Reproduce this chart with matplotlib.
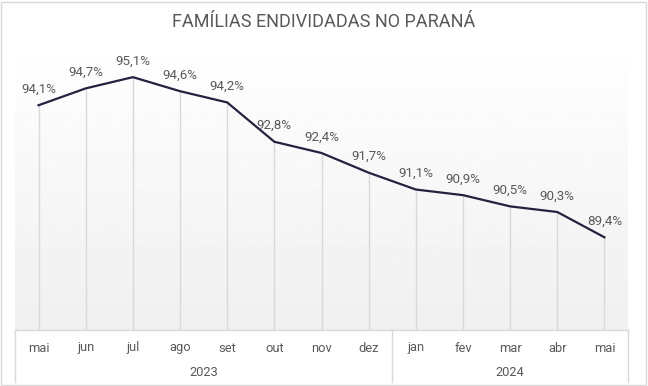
import matplotlib
matplotlib.use("Agg")
import matplotlib.pyplot as plt
import numpy as np
from matplotlib.patches import Rectangle
from matplotlib.lines import Line2D

# dados
meses = ["mai", "jun", "jul", "ago", "set", "out", "nov", "dez",
         "jan", "fev", "mar", "abr", "mai"]
anos = ["2023", "2024"]
meses_por_ano = [8, 5]
valores = [94.1, 94.7, 95.1, 94.6, 94.2, 92.8, 92.4, 91.7,
           91.1, 90.9, 90.5, 90.3, 89.4]

plt.rcParams['font.family'] = ['Roboto', 'DejaVu Sans']
cor_texto = "#595959"
cor_grade = "#d9d9d9"

W, H = 648, 386
fig = plt.figure(figsize=(W / 100, H / 100), dpi=100)
fig.patch.set_facecolor("white")

# borda externa
fig.add_artist(Rectangle((1 / W, 1 / H), 1 - 3 / W, 1 - 3 / H, transform=fig.transFigure,
                         fill=False, edgecolor=cor_grade, linewidth=1))

left, right, bottom, top = 15, 628, 330, 35
ax = fig.add_axes([left / W, 1 - bottom / H, (right - left) / W, (bottom - top) / H])
ax_h = bottom - top

x = np.arange(len(valores))
ymin, ymax = 86.1, 96.6
ax.set_xlim(-0.5, len(valores) - 0.5)
ax.set_ylim(ymin, ymax)

# fundo em degradê
grad = np.linspace(0.94, 1.0, 256).reshape(-1, 1)
ax.imshow(grad, cmap="gray", vmin=0, vmax=1, extent=[0, 1, 0, 1], transform=ax.transAxes,
          aspect="auto", origin="lower", zorder=0)

# linhas de queda
ax.vlines(x, ymin, valores, colors=cor_grade, linewidth=1, zorder=1)
ax.plot(x, valores, color="#24223f", linewidth=1.6, zorder=3, solid_joinstyle="miter")

for xi, v in zip(x, valores):
    ax.annotate(("%.1f%%" % v).replace(".", ","), (xi, v), xytext=(0, 7),
                textcoords="offset points", ha="center", va="bottom",
                fontsize=9.6, color=cor_texto)

for s in ax.spines.values():
    s.set_visible(False)
ax.set_xticks([])
ax.set_yticks([])

# eixo de categorias em dois níveis
tr = ax.get_xaxis_transform()
y_mes = -18 / ax_h
y_ano = -43 / ax_h
y_fim = -52 / ax_h
for xi, m in zip(x, meses):
    ax.text(xi, y_mes, m, transform=tr, ha="center", va="center", fontsize=9.3, color=cor_texto)

inicio = -0.5
separadores = [inicio]
for ano, n in zip(anos, meses_por_ano):
    centro = inicio + n / 2
    ax.text(centro, y_ano, ano, transform=tr, ha="center", va="center", fontsize=9.3, color=cor_texto)
    inicio += n
    separadores.append(inicio)

for sx in separadores:
    ax.add_line(Line2D([sx, sx], [0, y_fim], transform=tr, color=cor_grade,
                       linewidth=1, clip_on=False))
ax.add_line(Line2D([-0.5, len(valores) - 0.5], [0, 0], transform=tr, color=cor_grade,
                   linewidth=1, clip_on=False))

fig.text(0.5, 1 - 22 / H, "FAMÍLIAS ENDIVIDADAS NO PARANÁ", ha="center", va="center",
         fontsize=13, color=cor_texto)

fig.savefig("out.png", dpi=100)
